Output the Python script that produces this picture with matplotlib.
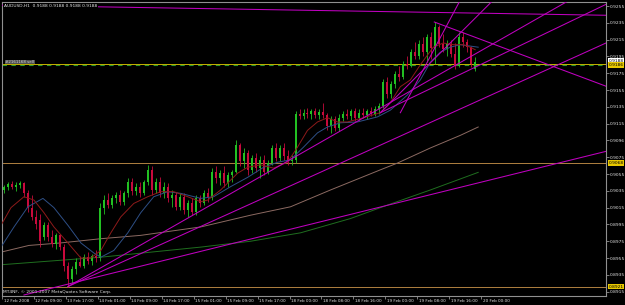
import matplotlib
matplotlib.use('Agg')
import matplotlib.pyplot as plt
import matplotlib.transforms as mtransforms
import numpy as np

# AUDUSD H1 candles, prices in pips (x 1e-4)
opens = [9036, 9040, 9043, 9039, 9042, 9044, 9032, 9015, 9004, 9000,
         8980, 8994, 8980, 8972, 8982, 8968, 8945, 8930, 8942, 8950,
         8946, 8956, 8952, 8958, 8955, 9015, 9024, 9018, 9026, 9030,
         9022, 9032, 9046, 9035, 9040, 9032, 9045, 9060, 9036, 9046,
         9032, 9040, 9026, 9030, 9016, 9028, 9012, 9020, 9010, 9026,
         9020, 9032, 9026, 9058, 9050, 9056, 9044, 9054, 9058, 9090,
         9070, 9080, 9060, 9074, 9062, 9072, 9058, 9068, 9086, 9074,
         9086, 9076, 9070, 9072, 9126, 9124, 9128, 9126, 9130, 9125,
         9129, 9125, 9112, 9120, 9110, 9122, 9126, 9124, 9130, 9122,
         9128, 9125, 9130, 9127, 9133, 9136, 9164, 9150, 9162, 9174,
         9170, 9186, 9184, 9200, 9196, 9210, 9200, 9218, 9205, 9230,
         9210, 9204, 9210, 9198, 9184, 9218, 9212, 9206, 9180, 9188]
highs = [9042, 9046, 9047, 9045, 9047, 9046, 9036, 9030, 9012, 9008,
         8998, 8998, 8988, 8985, 8984, 8972, 8950, 8946, 8955, 8958,
         8960, 8962, 8960, 8964, 9020, 9030, 9032, 9030, 9034, 9036,
         9035, 9050, 9050, 9044, 9046, 9048, 9066, 9064, 9050, 9052,
         9045, 9044, 9036, 9034, 9032, 9032, 9024, 9026, 9030, 9030,
         9036, 9038, 9062, 9064, 9060, 9064, 9058, 9060, 9096, 9092,
         9086, 9084, 9078, 9080, 9076, 9078, 9072, 9090, 9092, 9090,
         9092, 9084, 9078, 9130, 9132, 9132, 9134, 9133, 9134, 9133,
         9140, 9128, 9124, 9124, 9126, 9130, 9132, 9133, 9134, 9132,
         9134, 9133, 9135, 9136, 9140, 9168, 9170, 9166, 9178, 9184,
         9190, 9196, 9204, 9212, 9214, 9218, 9222, 9224, 9236, 9232,
         9222, 9214, 9215, 9211, 9224, 9224, 9216, 9208, 9194, 9188]
lows = [9032, 9036, 9037, 9035, 9038, 9028, 9010, 9000, 8990, 8968,
        8976, 8975, 8968, 8966, 8964, 8940, 8921, 8925, 8936, 8944,
        8943, 8948, 8947, 8950, 8952, 9008, 9014, 9014, 9020, 9018,
        9018, 9028, 9030, 9030, 9028, 9030, 9042, 9030, 9032, 9028,
        9026, 9022, 9016, 9012, 9012, 9008, 9004, 9006, 9006, 9016,
        9018, 9022, 9024, 9044, 9042, 9040, 9040, 9046, 9056, 9064,
        9062, 9054, 9056, 9058, 9050, 9054, 9055, 9066, 9070, 9070,
        9072, 9066, 9066, 9068, 9120, 9120, 9122, 9121, 9122, 9121,
        9122, 9108, 9104, 9106, 9106, 9118, 9120, 9119, 9118, 9119,
        9122, 9121, 9124, 9124, 9126, 9134, 9146, 9146, 9158, 9166,
        9168, 9180, 9182, 9192, 9192, 9196, 9188, 9192, 9186, 9206,
        9200, 9196, 9194, 9180, 9182, 9206, 9200, 9182, 9178, 9188]
closes = [9040, 9043, 9039, 9042, 9044, 9032, 9015, 9004, 8995, 8975,
          8994, 8980, 8972, 8982, 8968, 8945, 8930, 8942, 8950, 8946,
          8956, 8952, 8958, 8955, 9015, 9024, 9018, 9026, 9030, 9022,
          9032, 9046, 9035, 9040, 9032, 9045, 9060, 9036, 9046, 9032,
          9040, 9026, 9030, 9016, 9028, 9012, 9020, 9010, 9026, 9020,
          9032, 9026, 9058, 9050, 9056, 9044, 9054, 9058, 9090, 9070,
          9080, 9060, 9074, 9062, 9072, 9058, 9068, 9086, 9074, 9086,
          9076, 9070, 9072, 9126, 9124, 9128, 9126, 9130, 9125, 9129,
          9125, 9112, 9120, 9110, 9122, 9126, 9124, 9130, 9122, 9128,
          9125, 9130, 9127, 9133, 9136, 9164, 9150, 9162, 9174, 9170,
          9186, 9184, 9200, 9196, 9210, 9200, 9218, 9205, 9230, 9210,
          9204, 9210, 9198, 9184, 9218, 9212, 9206, 9186, 9188, 9188]

# moving averages (bar index, pips)
fast_x = [-0.75, 1.75, 5, 7.5, 10, 12.5, 16, 19.25, 21.75, 24.25, 26.75, 29.25,
          32.5, 36, 39.25, 42.5, 46, 49.25, 51, 54.25, 58.5, 61, 64.25, 67.5,
          71, 73.5, 76, 78.5, 81, 83.5, 86, 90, 94.25, 96.75, 99.25, 101.75,
          104.25, 107.5, 110, 112.5, 115, 116.75, 118]
fast_y = [8994, 9015, 9028, 9024, 9009, 8992, 8973, 8955, 8955, 8964, 8985, 9004,
          9020, 9028, 9034, 9034, 9028, 9022, 9024, 9036, 9056, 9063, 9066, 9062,
          9069, 9087, 9107, 9117, 9122, 9117, 9117, 9122, 9128, 9140, 9159, 9167,
          9185, 9206, 9211, 9209, 9209, 9206, 9203]
mid_x = [-0.75, 2.5, 6, 9.75, 12.5, 16, 19.25, 22.5, 24.25, 27.5, 31, 34.25,
         37.5, 41, 44.25, 49.25, 52.5, 56.75, 61, 65, 68.5, 71.75, 75, 78.5,
         81, 84.25, 88.5, 93.5, 96.75, 101, 104.25, 106.75, 109.25, 111.75,
         114.25, 118.75]
mid_y = [8968, 8992, 9016, 9026, 9015, 8994, 8973, 8961, 8956, 8964, 8985, 9009,
         9028, 9034, 9032, 9026, 9028, 9040, 9051, 9063, 9069, 9072, 9087, 9104,
         9111, 9116, 9117, 9123, 9131, 9149, 9167, 9188, 9200, 9206, 9209, 9206]
slow_x = [-0.75, 6.25, 14.25, 24.25, 34.25, 49.25, 61.75, 71.75, 81.75, 94.25,
          98.5, 106.75, 114.25, 118.75]
slow_y = [8962, 8970, 8973, 8978, 8982, 8992, 9006, 9016, 9036, 9060,
          9068, 9086, 9101, 9111]
long_x = [-0.75, 16, 24.25, 36.75, 49.25, 61.75, 74.25, 86.75, 96, 106.75, 118.75]
long_y = [8947, 8953, 8956, 8962, 8968, 8975, 8985, 9002, 9018, 9036, 9057]

# trend lines: (bar0, price0, bar1, price1)
trend_lines = [
    (-0.75, 9256, 150.75, 9244),
    (107.75, 9236, 150.5, 9160),
    (5, 8911, 150.75, 9082),
    (16, 8921, 150.75, 9211),
    (16, 8921, 140.5, 9259),
    (94.25, 9128, 150.75, 9257),
    (99.25, 9128, 114.25, 9262),
    (94.25, 9128, 122.5, 9262),
]
level_orange = [9068, 8921]
order_level = 9186
bid = 9188

price_ticks = [9255 - 20 * k for k in range(18)]
price_labels = ['0.9255', '0.9235', '0.9215', '0.9195', '0.9175', '0.9155',
                '0.9135', '0.9115', '0.9096', '0.9075', '0.9055', '0.9035',
                '0.9015', '0.8995', '0.8975', '0.8955', '0.8935', '0.8915']
time_labels = ['12 Feb 2008', '12 Feb 09:00', '13 Feb 17:00', '14 Feb 01:00',
               '14 Feb 09:00', '14 Feb 17:00', '15 Feb 01:00', '15 Feb 09:00',
               '15 Feb 17:00', '18 Feb 00:00', '18 Feb 08:00', '18 Feb 16:00',
               '19 Feb 00:00', '19 Feb 08:00', '19 Feb 16:00', '20 Feb 00:00']

P = lambda v: np.asarray(v, dtype=float) / 10000.0

fig = plt.figure(figsize=(6.25, 3.05), dpi=100, facecolor='black')
ax = fig.add_axes([2 / 625, 9 / 305, 604 / 625, 294 / 305])
ax.set_facecolor('black')
fs = 3.2
txtc = '#e4e4e4'

o, h, l, c = P(opens), P(highs), P(lows), P(closes)
idx = np.arange(len(o))
up = c >= o
bull, bear = '#22c022', '#c80a3c'
cols = np.where(up, bull, bear)
ax.vlines(idx, l, h, colors=cols, lw=0.6, zorder=3)
ax.bar(idx, np.maximum(np.abs(c - o), 0.00003), bottom=np.minimum(o, c),
       width=0.5, color=cols, lw=0, zorder=3)

ax.plot(long_x, P(long_y), color='#1f6e1f', lw=0.7, zorder=2)
ax.plot(slow_x, P(slow_y), color='#8c6a62', lw=0.7, zorder=2)
ax.plot(mid_x, P(mid_y), color='#2e4f86', lw=0.7, zorder=4)
ax.plot(fast_x, P(fast_y), color='#8e1a1a', lw=0.7, zorder=4)

for x0, y0, x1, y1 in trend_lines:
    xe = 200
    ye = y0 + (y1 - y0) / (x1 - x0) * (xe - x0)
    ax.plot([x0, xe], P([y0, ye]), color='#c000c0', lw=0.75, zorder=5)

for lv in level_orange:
    ax.axhline(lv / 10000, color='#b08040', lw=0.7, zorder=1)
ax.axhline(order_level / 10000, color='#c8b400', lw=0.7, zorder=1)
ax.axhline((order_level - 1.5) / 10000, color='#2a9a2a', lw=0.8,
           ls=(0, (4, 4)), zorder=1)

ax.set_xlim(-0.25, 150.75)
ax.set_ylim(0.89098, 0.92598)

ax.set_yticks(P(price_ticks))
ax.set_yticklabels(price_labels)
ax.yaxis.tick_right()
ax.tick_params(axis='y', colors='#909090', labelcolor=txtc, labelsize=fs,
               length=2, width=0.6, pad=1)
ax.set_xticks(np.arange(len(time_labels)) * 8 - 0.5)
ax.set_xticklabels(time_labels, ha='left')
ax.tick_params(axis='x', colors='#909090', labelcolor=txtc, labelsize=3.0,
               length=2, width=0.6, pad=0.5)
off = mtransforms.ScaledTranslation(1.5 / 100, 0, fig.dpi_scale_trans)
for lab in ax.get_xticklabels():
    lab.set_transform(lab.get_transform() + off)
for sp in ax.spines.values():
    sp.set_color('#909090')
    sp.set_linewidth(0.8)

tr = mtransforms.blended_transform_factory(ax.transAxes, ax.transData)
up2 = mtransforms.ScaledTranslation(0, 1.5 / 100, fig.dpi_scale_trans)
dn2 = mtransforms.ScaledTranslation(0, -1.0 / 100, fig.dpi_scale_trans)
ax.text(1.004, bid / 10000, '0.9188', transform=tr + up2, fontsize=fs,
        color='black', va='center', ha='left',
        bbox=dict(boxstyle='square,pad=0.15', fc='white', ec='none'))
for lv, t in [(order_level, dn2), (9068, None), (8921, None)]:
    ax.text(1.004, lv / 10000, '%.4f' % (lv / 10000),
            transform=tr + t if t is not None else tr, fontsize=fs,
            color='black', va='center', ha='left',
            bbox=dict(boxstyle='square,pad=0.15', fc='#e8c800', ec='none'))

ax.text(0.003, 0.988, 'AUDUSD,H1  0.9188 0.9188 0.9188 0.9188',
        transform=ax.transAxes, fontsize=fs, color=txtc, va='center',
        ha='left', zorder=10,
        bbox=dict(boxstyle='square,pad=0.2', fc='black', ec='none'))
ax.text(0.3, order_level / 10000, '#2161168 sell', fontsize=fs - 0.3,
        color='#d0d0d0', va='bottom', ha='left', zorder=10,
        bbox=dict(boxstyle='square,pad=0.1', fc='#505050', ec='none'))
ax.text(0.002, 0.014, 'MT4NF, \u00a9 2001-2007 MetaQuotes Software Corp.',
        transform=ax.transAxes, fontsize=fs, color=txtc, va='center',
        ha='left', zorder=10)

fig.savefig('out.png', dpi=100, facecolor='black')
